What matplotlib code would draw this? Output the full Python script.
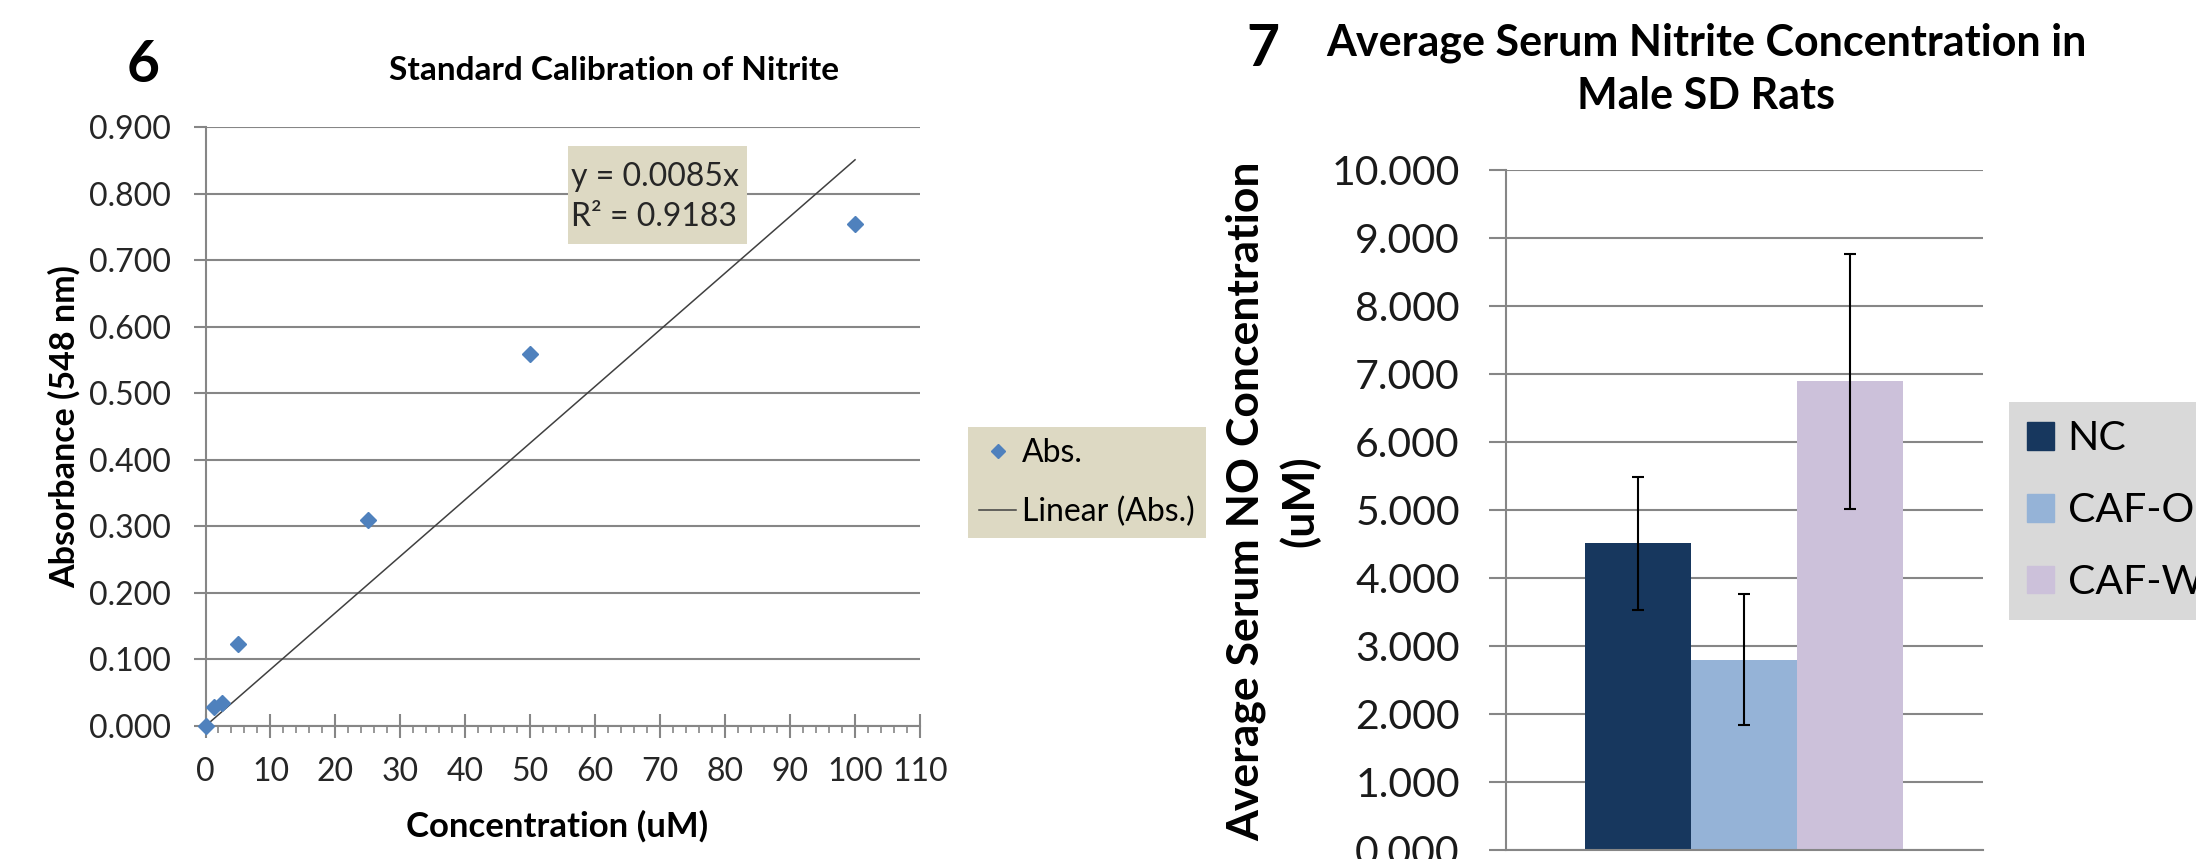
import matplotlib
matplotlib.use('Agg')
import matplotlib.pyplot as plt
from matplotlib.patches import Rectangle, Patch
from matplotlib.ticker import MultipleLocator, FormatStrFormatter
import numpy as np

plt.rcParams['font.family'] = ['Lato', 'DejaVu Sans']

# chart 6: nitrite standard curve
conc = [0, 1.25, 2.5, 5, 25, 50, 100]
absorb = [0.000, 0.028, 0.034, 0.123, 0.310, 0.559, 0.755]
eq_text = 'y = 0.0085x'
r2_text = 'R\u00b2 = 0.9183'

# chart 7: serum nitrite per group
groups = ['NC', 'CAF-OB', 'CAF-WB']
no_mean = [4.51, 2.80, 6.89]
no_err = [0.98, 0.96, 1.87]
bar_colors = ['#17375E', '#95B3D7', '#CCC1DA']

W, H = 2196, 859
fig = plt.figure(figsize=(W / 100, H / 100), dpi=100)


def box(x0, y0, x1, y1):
    # pixel box, origin top-left -> figure rect
    return [x0 / W, 1 - y1 / H, (x1 - x0) / W, (y1 - y0) / H]


def at(x, y):
    return x / W, 1 - y / H


grid = '#868686'
txt = '#262626'

# ---------------- panel 6 ----------------
ax1 = fig.add_axes(box(205.5, 127, 920, 726))
ax1.plot(conc, absorb, 'D', ms=8.5, color='#4F81BD', label='Abs.',
         clip_on=False, zorder=4)
slope = np.dot(conc, absorb) / np.dot(conc, conc)
xs = np.array([0, max(conc)])
ax1.plot(xs, slope * xs, color='#404040', lw=1.1, label='Linear (Abs.)', zorder=3)

ax1.set_xlim(0, 110)
ax1.set_ylim(0, 0.9)
ax1.xaxis.set_major_locator(MultipleLocator(10))
ax1.xaxis.set_minor_locator(MultipleLocator(2))
ax1.yaxis.set_major_locator(MultipleLocator(0.1))
ax1.yaxis.set_major_formatter(FormatStrFormatter('%.3f'))
ax1.set_axisbelow(True)
ax1.grid(axis='y', color=grid, lw=1.5)
for s in ['top', 'right']:
    ax1.spines[s].set_visible(False)
for s in ['left', 'bottom']:
    ax1.spines[s].set_color(grid)
    ax1.spines[s].set_linewidth(1.5)
ax1.tick_params(axis='y', length=9, width=1.5, color=grid, pad=16,
                labelsize=23, labelcolor=txt)
ax1.tick_params(axis='x', which='major', direction='inout', length=17,
                width=1.5, color=grid, pad=14, labelsize=23, labelcolor=txt)
ax1.tick_params(axis='x', which='minor', direction='out', length=5,
                width=1.2, color=grid)

leg1 = ax1.legend(loc='upper left', bbox_to_anchor=at(968, 426.7),
                  bbox_transform=fig.transFigure, fontsize=23,
                  facecolor='#DDD9C3', edgecolor='none', fancybox=False,
                  framealpha=1, handlelength=1.15, handletextpad=0.2,
                  borderpad=0.35, labelspacing=0.9, borderaxespad=0,
                  markerscale=0.8)

fig.add_artist(Rectangle(at(568, 244), 179 / W, 98 / H, transform=fig.transFigure,
                         facecolor='#DDD9C3', edgecolor='none'))
fig.text(*at(571, 177), eq_text, fontsize=23, color=txt, va='center')
fig.text(*at(571, 217), r2_text, fontsize=23, color=txt, va='center')

fig.text(*at(143, 66), '6', fontsize=41, fontweight='bold', ha='center', va='center')
fig.text(*at(614, 71), 'Standard Calibration of Nitrite', fontsize=24,
         fontweight='bold', ha='center', va='center')
fig.text(*at(64, 427), 'Absorbance (548 nm)', fontsize=24.5, fontweight='bold',
         rotation=90, ha='center', va='center')
fig.text(*at(557, 826), 'Concentration (uM)', fontsize=25, fontweight='bold',
         ha='center', va='center')

# ---------------- panel 7 ----------------
ax2 = fig.add_axes(box(1505.7, 170, 1982.7, 850))
bw = 0.2222
offs = (np.arange(len(groups)) - 1) * bw
for o, m, e, c, g in zip(offs, no_mean, no_err, bar_colors, groups):
    ax2.bar(o, m, width=bw, color=c, yerr=e, capsize=4.2, label=g, zorder=2,
            error_kw=dict(elinewidth=1.5, capthick=1.5, ecolor='black'))
ax2.set_xlim(-0.5, 0.5)
ax2.set_ylim(0, 10)
ax2.set_xticks([])
ax2.yaxis.set_major_locator(MultipleLocator(1))
ax2.yaxis.set_major_formatter(FormatStrFormatter('%.3f'))
ax2.set_axisbelow(True)
ax2.grid(axis='y', color=grid, lw=1.5)
for s in ['top', 'right']:
    ax2.spines[s].set_visible(False)
for s in ['left', 'bottom']:
    ax2.spines[s].set_color(grid)
    ax2.spines[s].set_linewidth(1.5)
ax2.tick_params(axis='y', length=12, width=1.5, color=grid, pad=21,
                labelsize=29.5, labelcolor='#1a1a1a')

handles = [Patch(color=c, label=g) for c, g in zip(bar_colors, groups)]
fig.legend(handles=handles, loc='upper left', bbox_to_anchor=at(2009, 402),
           bbox_transform=fig.transFigure, fontsize=29.5,
           facecolor='#D9D9D9', edgecolor='none', fancybox=False, framealpha=1,
           handlelength=0.65, handleheight=0.65, handletextpad=0.33,
           borderpad=0.45, labelspacing=0.85, borderaxespad=0)

fig.text(*at(1263, 49), '7', fontsize=41, fontweight='bold', ha='center', va='center')
fig.text(*at(1706, 69), 'Average Serum Nitrite Concentration in\nMale SD Rats',
         fontsize=31, fontweight='bold', ha='center', va='center', linespacing=1.4)
fig.text(*at(1273, 501), 'Average Serum NO Concentration\n(uM)', fontsize=32,
         fontweight='bold', rotation=90, ha='center', va='center', linespacing=1.35)

fig.savefig('out.png', dpi=100)
